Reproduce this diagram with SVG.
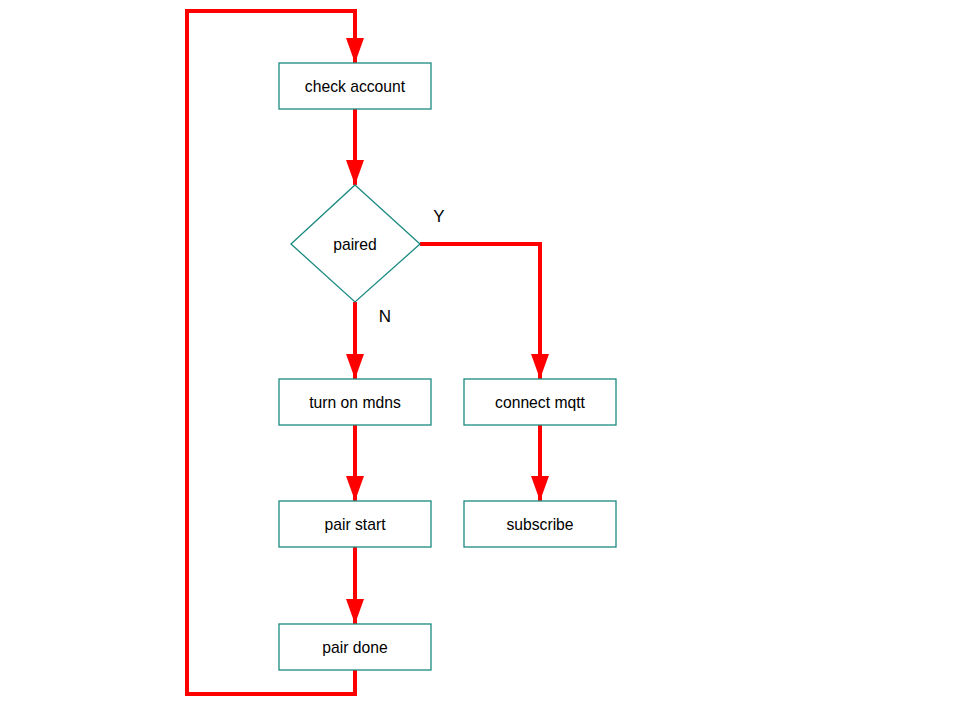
<svg xmlns="http://www.w3.org/2000/svg" width="960" height="720" viewBox="0 0 960 720">
<style>
.box{fill:#fff;stroke:#1a8a80;stroke-width:1.3}
.t{font-family:"Liberation Sans",Arial,sans-serif;font-size:15.7px;fill:#000;text-anchor:middle;dominant-baseline:central}
.lbl{font-family:"Liberation Sans",Arial,sans-serif;font-size:17px;fill:#000;text-anchor:middle;dominant-baseline:central}
.c{fill:none;stroke:#ff0000;stroke-width:4;stroke-linejoin:miter}
</style>
<defs>
<marker id="ah" markerUnits="userSpaceOnUse" markerWidth="26" markerHeight="20" refX="25" refY="10" orient="auto">
<path d="M0,1 L25,10 L0,19 z" fill="#ff0000"/>
</marker>
</defs>
<rect width="960" height="720" fill="#fff"/>
<g id="connectors">
<path class="c" d="M355,109 V185" marker-end="url(#ah)"/>
<path class="c" d="M355,302 V379" marker-end="url(#ah)"/>
<path class="c" d="M420,244 H540 V379" marker-end="url(#ah)"/>
<path class="c" d="M355,425 V501" marker-end="url(#ah)"/>
<path class="c" d="M540,425 V501" marker-end="url(#ah)"/>
<path class="c" d="M355,547 V624" marker-end="url(#ah)"/>
<path class="c" d="M355,670 V694 H187 V11 H355 V63" marker-end="url(#ah)"/>
<text class="lbl" x="439" y="216">Y</text>
<text class="lbl" x="385" y="316">N</text>
</g>
<g id="check-account"><rect class="box" x="279" y="63" width="152" height="46"/><text class="t" x="355" y="86.5">check account</text></g>
<g id="paired"><path class="box" d="M355,185 L420,244 L355,302 L291,244 z"/><text class="t" x="355" y="244.5">paired</text></g>
<g id="turn-on-mdns"><rect class="box" x="279" y="379" width="152" height="46"/><text class="t" x="355" y="402.5">turn on mdns</text></g>
<g id="connect-mqtt"><rect class="box" x="464" y="379" width="152" height="46"/><text class="t" x="540" y="402.5">connect mqtt</text></g>
<g id="pair-start"><rect class="box" x="279" y="501" width="152" height="46"/><text class="t" x="355" y="524.5">pair start</text></g>
<g id="subscribe"><rect class="box" x="464" y="501" width="152" height="46"/><text class="t" x="540" y="524.5">subscribe</text></g>
<g id="pair-done"><rect class="box" x="279" y="624" width="152" height="46"/><text class="t" x="355" y="647.5">pair done</text></g>
</svg>
